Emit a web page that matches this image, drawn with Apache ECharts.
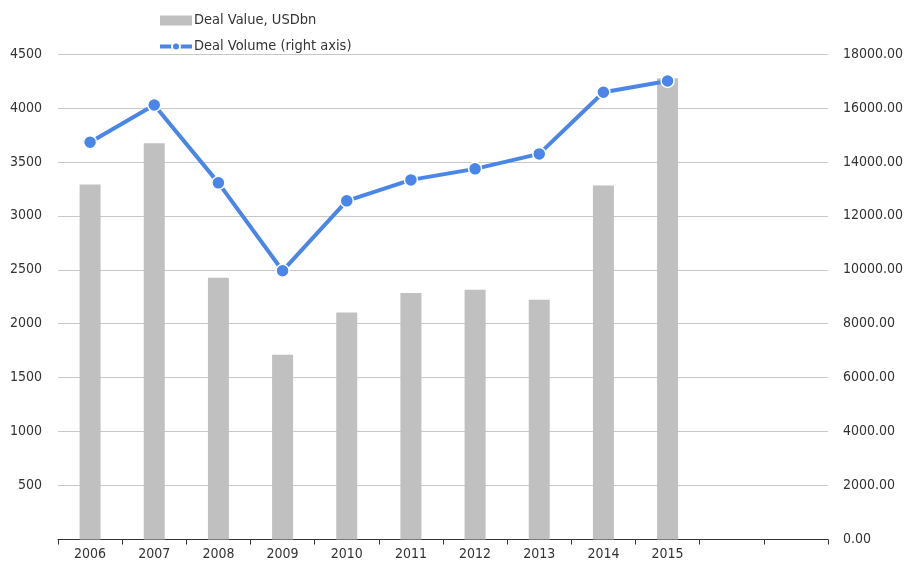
<!DOCTYPE html>
<html>
<head>
<meta charset="utf-8">
<script src="https://cdn.jsdelivr.net/npm/echarts@6/dist/echarts.min.js"></script>
<style>html,body{margin:0;padding:0;background:#fff}#c{width:909px;height:567px}</style>
</head>
<body>
<div id="c"></div>
<script>
var categories = ['2006','2007','2008','2009','2010','2011','2012','2013','2014','2015','',' '];
var dealValue = [3290, 3673, 2426, 1713, 2105, 2284, 2315, 2222, 3281, 4275, null, null];
var dealVolume = [14730, 16111, 13222, 9963, 12556, 13333, 13741, 14296, 16581, 17000, null, null];
var leftTicks = {min: 0, max: 4500, interval: 500};
var rightTicks = {min: 0, max: 18000, interval: 2000};

var font = 'DejaVu Sans Condensed';
var chart = echarts.init(document.getElementById('c'), null, {renderer: 'canvas'});
chart.setOption({
  animation: false,
  textStyle: {fontFamily: font},
  legend: {
    orient: 'vertical', left: 153, top: 8, itemGap: 11, itemWidth: 32, itemHeight: 10,
    textStyle: {fontFamily: font, fontSize: 14.5, color: '#333', padding: [0,0,0,-3]},
    data: [
      {name: 'Deal Value, USDbn', icon: 'rect'},
      {name: 'Deal Volume (right axis)', lineStyle: {width: 4}}
    ]
  },
  grid: {left: 58, right: 81, top: 54, bottom: 27.5, containLabel: false},
  xAxis: {
    type: 'category', data: categories,
    axisLine: {lineStyle: {color: '#333', width: 1}},
    axisTick: {show: true, length: 5, lineStyle: {color: '#333'}},
    axisLabel: {color: '#333', fontSize: 14, margin: 8, fontFamily: font},
    splitLine: {show: false}
  },
  yAxis: [
    {type: 'value', min: leftTicks.min, max: leftTicks.max, interval: leftTicks.interval,
     axisLine: {show: false}, axisTick: {show: false},
     axisLabel: {color: '#333', fontSize: 14, margin: 16, showMinLabel: false, fontFamily: font,
       formatter: function(v){ return String(v); }},
     splitLine: {lineStyle: {color: '#c8c8c8', width: 1}}},
    {type: 'value', min: rightTicks.min, max: rightTicks.max, interval: rightTicks.interval,
     axisLine: {show: false}, axisTick: {show: false},
     axisLabel: {color: '#333', fontSize: 14, margin: 15, fontFamily: font,
       formatter: function(v){ return v.toFixed(2); }},
     splitLine: {show: false}}
  ],
  series: [
    {name: 'Deal Value, USDbn', type: 'bar', data: dealValue, yAxisIndex: 0,
     barWidth: 21, itemStyle: {color: '#c0c0c0'}},
    {name: 'Deal Volume (right axis)', type: 'line', data: dealVolume, yAxisIndex: 1,
     symbol: 'circle', symbolSize: 13, showAllSymbol: true,
     lineStyle: {color: '#4a86e8', width: 4},
     itemStyle: {color: '#4a86e8', borderColor: '#fff', borderWidth: 1.5}}
  ]
});
</script>
</body>
</html>
